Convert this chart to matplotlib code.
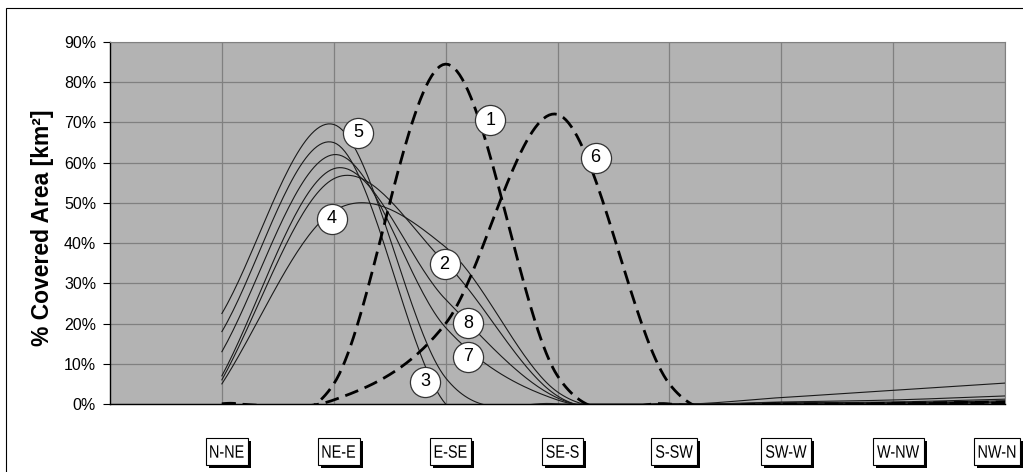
import numpy as np
import matplotlib
matplotlib.use('Agg')
import matplotlib.pyplot as plt
from matplotlib.font_manager import FontProperties
from matplotlib.textpath import TextPath
from matplotlib.patches import Rectangle, PathPatch
from matplotlib.transforms import Affine2D, IdentityTransform
from matplotlib.ticker import FuncFormatter

sectors = ['N-NE', 'NE-E', 'E-SE', 'SE-S', 'S-SW', 'SW-W', 'W-NW', 'NW-N']

# % covered area for each sector, one list per case
case1 = [0, 5, 84.5, 7, 0, 0, 0, 0.3]
case2 = [6, 56, 35, 2, 0, 0.5, 1.0, 2.0]
case3 = [18, 65, 0, 0, 0, 0, 0, 0.3]
case4 = [5, 48, 39, 3, 0, 1.6, 3.4, 5.2]
case5 = [22.5, 69.5, 6.5, 0, 0, 0, 0.2, 0.5]
case6 = [0, 1, 20, 72, 5, 0, 0.2, 0.5]
case7 = [13, 62, 19, 1, 0, 0.2, 0.3, 0.8]
case8 = [7, 58.5, 26, 1.5, 0, 0.3, 0.5, 1.2]

dashed_cases = {'1': case1, '6': case6}
solid_cases = {'2': case2, '3': case3, '4': case4, '5': case5, '7': case7, '8': case8}

# where the numbered circles sit (sector index, %)
tag_names = ['1', '2', '3', '4', '5', '6', '7', '8']
tag_x = [3.40, 2.99, 2.82, 1.98, 2.22, 4.34, 3.20, 3.20]
tag_y = [70.6, 34.8, 5.5, 46.0, 67.4, 61.2, 11.7, 20.1]


def smooth(vals, n=40):
    # Catmull-Rom spline through the sector values (like a smoothed line)
    y = np.asarray(vals, float)
    x = np.arange(1, len(y) + 1)
    ext = np.concatenate([[2 * y[0] - y[1]], y, [2 * y[-1] - y[-2]]])
    xs, ys = [], []
    for i in range(len(y) - 1):
        p0, p1, p2, p3 = ext[i:i + 4]
        t = np.linspace(0, 1, n, endpoint=(i == len(y) - 2))
        m1 = (p2 - p0) / 2
        m2 = (p3 - p1) / 2
        h00 = 2 * t**3 - 3 * t**2 + 1
        h10 = t**3 - 2 * t**2 + t
        h01 = -2 * t**3 + 3 * t**2
        h11 = t**3 - t**2
        xs.append(x[i] + t)
        ys.append(h00 * p1 + h10 * m1 + h01 * p2 + h11 * m2)
    return np.concatenate(xs), np.concatenate(ys)


plt.rcParams['font.family'] = ['Liberation Sans', 'DejaVu Sans']

W, H = 1023, 472
fig = plt.figure(figsize=(W / 100, H / 100), dpi=100)
ax = fig.add_axes([110 / W, 68 / H, 895 / W, 362 / H])
ax.set_facecolor('#b3b3b3')

for name, vals in solid_cases.items():
    xs, ys = smooth(vals)
    ax.plot(xs, ys, color='#1a1a1a', lw=0.8, zorder=3)

for name, vals in dashed_cases.items():
    xs, ys = smooth(vals)
    ax.plot(xs, ys, color='black', lw=2.0, linestyle=(0, (5, 2.5)), zorder=4)

ax.scatter(tag_x, tag_y, s=470, c='white', edgecolors='#333333', linewidths=0.9, zorder=6)
for n, x, y in zip(tag_names, tag_x, tag_y):
    ax.text(x, y, n, ha='center', va='center', fontsize=13, zorder=7)

ax.set_xlim(0, 8)
ax.set_ylim(0, 90)
ax.set_xticks(range(1, 9))
ax.set_yticks(range(0, 91, 10))
ax.yaxis.set_major_formatter(FuncFormatter(lambda v, p: f'{v:.0f}%'))
ax.tick_params(axis='x', length=0, labelbottom=False)
ax.tick_params(axis='y', length=5, width=0.8, direction='out', labelsize=11.5, pad=5)
ax.grid(True, color='#808080', lw=0.9, zorder=1)
ax.set_axisbelow(True)
for side in ['top', 'right']:
    ax.spines[side].set_color('#808080')
for side in ['left', 'bottom']:
    ax.spines[side].set_color('black')
    ax.spines[side].set_linewidth(1.0)

# sector labels: condensed text in white boxes with a black drop shadow
fp = FontProperties(family='Liberation Sans')
box_h = 27
cy = H - 451.5
for i, s in enumerate(sectors):
    cx = ax.transData.transform((i + 1, 0))[0] + 5
    cx = min(cx, W - 26)
    tp = TextPath((0, 0), s, size=18, prop=fp)
    bb = tp.get_extents()
    sx = 0.8
    tw = bb.width * sx
    box_w = tw + 9
    fig.add_artist(Rectangle((cx - box_w / 2 + 3, cy - box_h / 2 - 3), box_w, box_h,
                             transform=IdentityTransform(), fc='black', ec='none'))
    fig.add_artist(Rectangle((cx - box_w / 2, cy - box_h / 2), box_w, box_h,
                             transform=IdentityTransform(), fc='white', ec='black', lw=0.8))
    tr = (Affine2D().translate(-bb.x0 - bb.width / 2, -bb.y0 - bb.height / 2)
          .scale(sx, 1).translate(cx, cy))
    fig.add_artist(PathPatch(tr.transform_path(tp), transform=IdentityTransform(),
                             fc='black', ec='none'))

fig.text(43 / W, 1 - 228 / H, '% Covered Area [km²]', rotation=90,
         ha='center', va='center', fontsize=16.5, fontweight='bold')

fig.add_artist(Rectangle((6 / W, -0.1), 1.2, (H - 8) / H + 0.1,
                         transform=fig.transFigure, fill=False, ec='black', lw=0.8))

fig.savefig('out.png', dpi=100)
